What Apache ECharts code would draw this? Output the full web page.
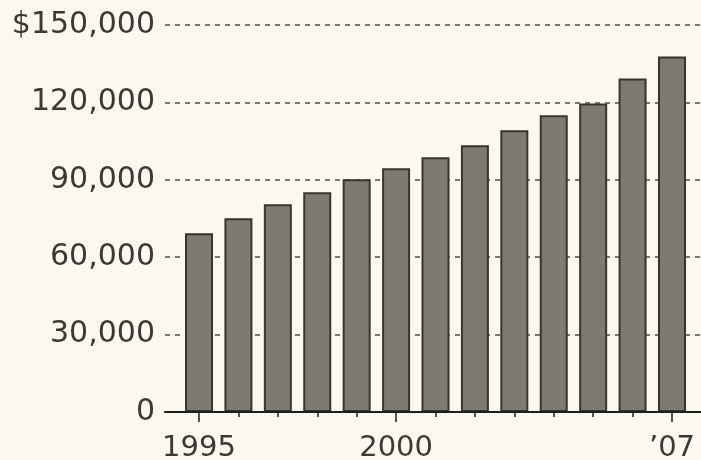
<!DOCTYPE html>
<html>
<head>
<meta charset="utf-8">
<script src="https://cdn.jsdelivr.net/npm/echarts@6/dist/echarts.min.js"></script>
<style>
  html, body { margin: 0; padding: 0; background: #fbf9ef; }
  #chart { width: 701px; height: 460px; }
</style>
</head>
<body>
<div id="chart"></div>
<script>
// Yearly values, 1995 through 2007
const years = ['1995', '1996', '1997', '1998', '1999', '2000', '2001',
               '2002', '2003', '2004', '2005', '2006', '2007'];
const values = [69300, 75100, 80500, 85200, 90200, 94500, 98700,
                103400, 109200, 115000, 119600, 129300, 137800];
// Which years carry a label under the axis, and the text shown
const yearLabels = { '1995': '1995', '2000': '2000', '2007': '\u201907' };
const yTicks = [0, 30000, 60000, 90000, 120000, 150000];

const fontFamily = '"DejaVu Sans", Verdana, sans-serif';
const textColor = '#3a3935';
const yMax = yTicks[yTicks.length - 1];
const yStep = yTicks[1] - yTicks[0];

function fmtMoney(v) {
  const s = String(v).replace(/\B(?=(\d{3})+(?!\d))/g, ',');
  return v === yMax ? '$' + s : s;
}

const chart = echarts.init(document.getElementById('chart'), null, { renderer: 'canvas' });

chart.setOption({
  backgroundColor: '#fbf9ef',
  animation: false,
  grid: [
    // full-width frame: y labels, dashed guides, baseline
    { left: 165, right: 0, top: 25, bottom: 48, outerBoundsMode: 'none' },
    // bar band
    { left: 179.3, right: 9.3, top: 25, bottom: 48, outerBoundsMode: 'none' }
  ],
  xAxis: [
    {
      gridIndex: 0, type: 'value', min: 0, max: 1, z: 5, position: 'bottom',
      axisLine: { show: true, onZero: false, lineStyle: { color: '#1e1e1c', width: 2 } },
      axisTick: { show: false }, axisLabel: { show: false }, splitLine: { show: false }
    },
    {
      gridIndex: 1, type: 'category', data: years, position: 'bottom',
      axisLine: { show: false, onZero: false },
      axisTick: { show: true, alignWithLabel: true, interval: 0, length: 5,
                  lineStyle: { color: '#555550', width: 2 } },
      axisLabel: { show: false }
    },
    {
      gridIndex: 1, type: 'category', data: years, position: 'bottom', offset: 0,
      axisLine: { show: false, onZero: false },
      axisTick: { show: true, alignWithLabel: true, length: 10,
                  interval: (i, v) => v in yearLabels,
                  lineStyle: { color: '#555550', width: 2 } },
      axisLabel: {
        interval: (i, v) => v in yearLabels,
        formatter: v => yearLabels[v] || '',
        margin: 22, fontSize: 29, fontFamily, color: textColor
      }
    }
  ],
  yAxis: [
    {
      gridIndex: 0, type: 'value', min: 0, max: yMax, interval: yStep,
      axisLine: { show: false }, axisTick: { show: false },
      axisLabel: { formatter: fmtMoney, margin: 10, fontSize: 30, fontFamily, color: textColor },
      splitLine: { show: true, lineStyle: { color: '#4f4e4a', width: 1.5, type: [5, 5] } }
    },
    { gridIndex: 1, type: 'value', min: 0, max: yMax, show: false }
  ],
  series: [{
    type: 'bar',
    xAxisIndex: 1, yAxisIndex: 1,
    data: values,
    barWidth: 28,
    itemStyle: { color: '#7d7a72', borderColor: '#363531', borderWidth: 2 }
  }]
});
</script>
</body>
</html>
